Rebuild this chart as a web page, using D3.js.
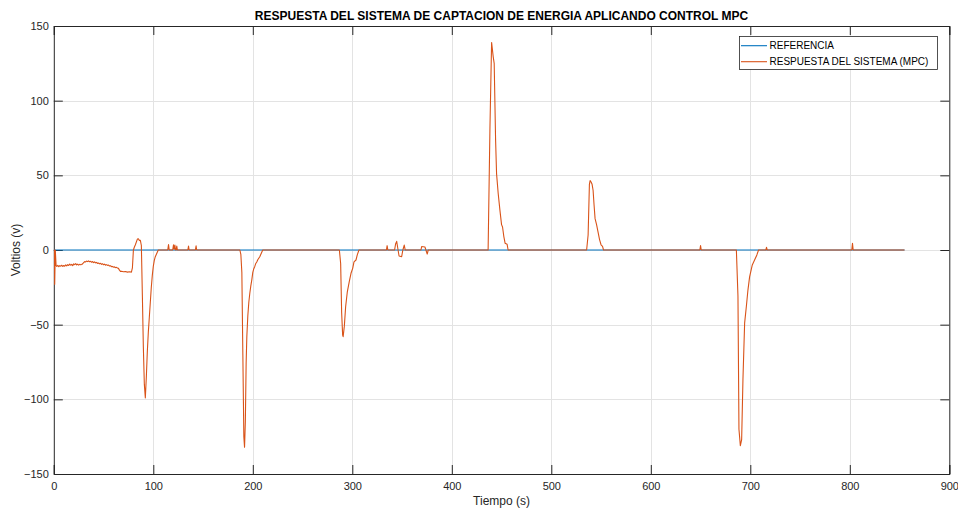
<!DOCTYPE html>
<html>
<head>
<meta charset="utf-8">
<script src="https://cdn.jsdelivr.net/npm/d3@7"></script>
<style>
  html, body { margin: 0; padding: 0; background: #fff; }
  svg { display: block; font-family: "Liberation Sans", Arial, Helvetica, sans-serif; }
</style>
</head>
<body>
<svg id="chart" width="958" height="509"></svg>
<script>
// ---- data ----
const chartTitle = "RESPUESTA DEL SISTEMA DE CAPTACION DE ENERGIA APLICANDO CONTROL MPC";
const xLabel = "Tiempo (s)";
const yLabel = "Voltios (v)";
const seriesNames = ["REFERENCIA", "RESPUESTA DEL SISTEMA (MPC)"];
const xTicks = [0, 100, 200, 300, 400, 500, 600, 700, 800, 900];
const yTicks = [-150, -100, -50, 0, 50, 100, 150];

const refTime = [0, 855];
const refValues = [0, 0];

const respTime = [
  0, 0.6, 0.9, 1.5, 2.3, 3, 4, 5, 6, 7, 8, 9, 10, 11, 12, 13, 14, 15, 16, 17, 18, 19,
  20, 21, 22, 23, 24, 25, 26, 27, 28, 29, 30, 31, 32, 33, 34, 35, 36, 37, 38, 39,
  40, 41, 42, 43, 44, 45, 46, 47, 48, 49, 50, 51, 52, 53, 54, 55, 56, 57, 58, 59,
  60, 61, 62, 63, 64, 65, 66, 67, 68, 70, 72, 74, 76, 78, 79, 80, 81, 82, 84, 85,
  86, 87, 88, 89, 90, 91, 92, 93, 94, 95, 96, 97, 98, 99, 100, 101, 102, 103, 104, 105,
  114.5, 115.3, 116, 119.5, 120.3, 121, 121.7, 122.3, 123, 123.6, 124.2,
  134.7, 135.4, 136, 142.3, 143, 143.6,
  187, 188, 189, 190, 191, 191.7, 192.5, 193.3, 194, 195, 196, 197, 198, 199, 200,
  201, 202, 203, 204, 205, 206, 207, 208, 209, 210,
  287, 288.3, 289.3, 290.3, 290.8, 292, 293.3, 295, 297, 298.7, 300.4, 301.7, 303.7, 305, 306.7,
  334.3, 335, 335.7, 342.5, 343.5, 344.6, 346, 347, 349.6, 350.8, 352.2, 353.2,
  369, 369.7, 373, 375.3, 376.3,
  436.5, 438.3, 440, 441.6, 442.6, 444, 445, 446.6, 448.3, 450, 451, 452.3, 453.6, 455.6, 456.6,
  535.5, 537, 538.3, 539, 540, 541, 542, 543, 544, 545.5, 547, 548.5, 550, 551.5, 552.5,
  649.3, 650, 650.7,
  686, 687.6, 688.6, 690, 691.3, 692.6, 694.3, 696, 697.6, 699.3, 702, 704.3, 706.6, 708.3,
  715.6, 716.3, 717,
  802, 802.7, 803.4,
  855
];
const respValues = [
  0, 0, -23, 0, -10.5, -11, -10.3, -11.2, -10.5, -10.8, -10.2, -11, -10.4, -10.9, -10, -10.6, -9.8, -10.4, -9.4, -10.2, -9.6, -10.5,
  -9.3, -9.8, -9.1, -10, -9.5, -10.1, -9.6, -9.9, -9.7, -9.2, -8.4, -7.8, -8, -7.4, -7.8, -7.3, -7.9, -7.6, -8.2, -7.7,
  -8.5, -7.9, -8.6, -8.3, -9, -8.7, -9.3, -8.9, -9.6, -9.2, -9.9, -9.5, -10.2, -9.8, -10.3, -10.1, -10.7, -10.5, -11.2, -11,
  -11.5, -11.3, -11.8, -11.6, -12.1, -12.3, -13.5, -14.3, -14.2, -14.6, -14.4, -14.8, -14.6, -14.8, -12, 0, 2, 3.5, 7.3, 7.5,
  6.3, 6.5, 3, -30, -65, -90, -99, -85, -68, -55, -45, -35, -25, -17, -11, -7, -4.5, -3, -1.5, 0,
  0, 3.6, 0, 0, 3.5, 0.5, 3.3, 0, 0, 2.6, 0,
  0, 2.6, 0, 0, 2.8, 0,
  0, -3, -15, -70, -125, -132, -115, -76, -58, -44, -35, -29, -24, -20, -15,
  -12.5, -11, -9, -8, -6.5, -5.5, -4.5, -3, -1.5, 0,
  0, -9, -42, -57, -58, -51, -38, -28, -21, -15.6, -12.3, -8, -6.7, -3.3, 0,
  0, 2.9, 0, 0, 4, 5.8, 0, -4, -4.5, 0, 3.3, 0,
  0, 2.3, 2, -2.7, 0,
  0, 80, 139, 129.5, 125, 74, 51, 38, 27, 17, 15.4, 9, 4.5, 3.8, 0,
  0, 10, 44, 46.5, 45.5, 44, 40, 30, 21, 17, 12, 7, 3.5, 2.5, 0,
  0, 3, 0,
  0, -31, -120, -131, -127, -87, -49, -38, -27, -18, -10, -6.7, -3.3, 0,
  0, 1.8, 0,
  0, 4.5, 0,
  0
];

// ---- layout ----
const svg = d3.select("#chart");
const L = 53.8, R = 949.3, T = 26, B = 474;
const x = d3.scaleLinear().domain([0, 900]).range([L, R]);
const y = d3.scaleLinear().domain([-150, 150]).range([B, T]);
const axisColor = "#262626";
const gridColor = "#e3e3e3";

// grid
const grid = svg.append("g");
grid.selectAll(".gx").data(xTicks.slice(1, -1)).enter().append("line")
  .attr("x1", d => Math.round(x(d)) + 0.5).attr("x2", d => Math.round(x(d)) + 0.5)
  .attr("y1", T).attr("y2", B).attr("stroke", gridColor).attr("stroke-width", 1);
grid.selectAll(".gy").data(yTicks.slice(1, -1)).enter().append("line")
  .attr("y1", d => Math.round(y(d)) + 0.5).attr("y2", d => Math.round(y(d)) + 0.5)
  .attr("x1", L).attr("x2", R).attr("stroke", gridColor).attr("stroke-width", 1);

// clip
svg.append("clipPath").attr("id", "clip").append("rect")
  .attr("x", L).attr("y", T).attr("width", R - L).attr("height", B - T);

const line = d3.line().x(d => x(d[0])).y(d => y(d[1]));
const refData = refTime.map((t, i) => [t, refValues[i]]);
const respData = respTime.map((t, i) => [t, respValues[i]]);
const colors = ["#0072BD", "#D95319"];

// axes (MATLAB-style, ticks inside, box)
const tickLen = 9;
const xAxisB = d3.axisBottom(x).tickValues(xTicks).tickSize(-tickLen).tickPadding(8).tickFormat(d3.format("d"));
const xAxisT = d3.axisTop(x).tickValues(xTicks).tickSize(-tickLen).tickFormat("");
const yAxisL = d3.axisLeft(y).tickValues(yTicks).tickSize(-tickLen).tickPadding(5).tickFormat(d3.format("d"));
const yAxisR = d3.axisRight(y).tickValues(yTicks).tickSize(-tickLen).tickFormat("");

function style(g) {
  g.selectAll("path").attr("stroke", axisColor).attr("stroke-width", 1);
  g.selectAll("line").attr("stroke", axisColor).attr("stroke-width", 1);
  g.selectAll("text").attr("fill", axisColor).attr("font-size", 11)
    .attr("font-family", "'Liberation Sans', Arial, sans-serif");
}
svg.append("g").attr("transform", `translate(0,${B})`).call(xAxisB).call(style);
svg.append("g").attr("transform", `translate(0,${T})`).call(xAxisT).call(style);
svg.append("g").attr("transform", `translate(${L},0)`).call(yAxisL).call(style);
svg.append("g").attr("transform", `translate(${R},0)`).call(yAxisR).call(style);

const plot = svg.append("g").attr("clip-path", "url(#clip)");
plot.append("path").datum(refData).attr("d", line)
  .attr("fill", "none").attr("stroke", colors[0]).attr("stroke-width", 1.1);
plot.append("path").datum(respData).attr("d", line)
  .attr("fill", "none").attr("stroke", colors[1]).attr("stroke-width", 1.1)
  .attr("stroke-linejoin", "round");

// title & labels
svg.append("text").attr("x", (L + R) / 2).attr("y", 20).attr("text-anchor", "middle")
  .attr("font-size", 12).attr("font-weight", "bold").attr("fill", "#000").text(chartTitle);
svg.append("text").attr("x", (L + R) / 2).attr("y", 505).attr("text-anchor", "middle")
  .attr("font-size", 12).attr("fill", axisColor).text(xLabel);
svg.append("text").attr("transform", `translate(20,${(T + B) / 2}) rotate(-90)`)
  .attr("text-anchor", "middle").attr("font-size", 12).attr("fill", axisColor).text(yLabel);

// legend
const lg = svg.append("g");
lg.append("rect").attr("x", 739.5).attr("y", 36.5).attr("width", 198).attr("height", 33)
  .attr("fill", "#fff").attr("stroke", axisColor).attr("stroke-width", 0.8);
seriesNames.forEach((name, i) => {
  const yy = 45.7 + i * 16;
  lg.append("line").attr("x1", 741).attr("x2", 767).attr("y1", yy).attr("y2", yy)
    .attr("stroke", colors[i]).attr("stroke-width", 1.1);
  lg.append("text").attr("x", 769.5).attr("y", yy + 3.6).attr("font-size", 10)
    .attr("fill", "#000").text(name);
});
</script>
</body>
</html>
